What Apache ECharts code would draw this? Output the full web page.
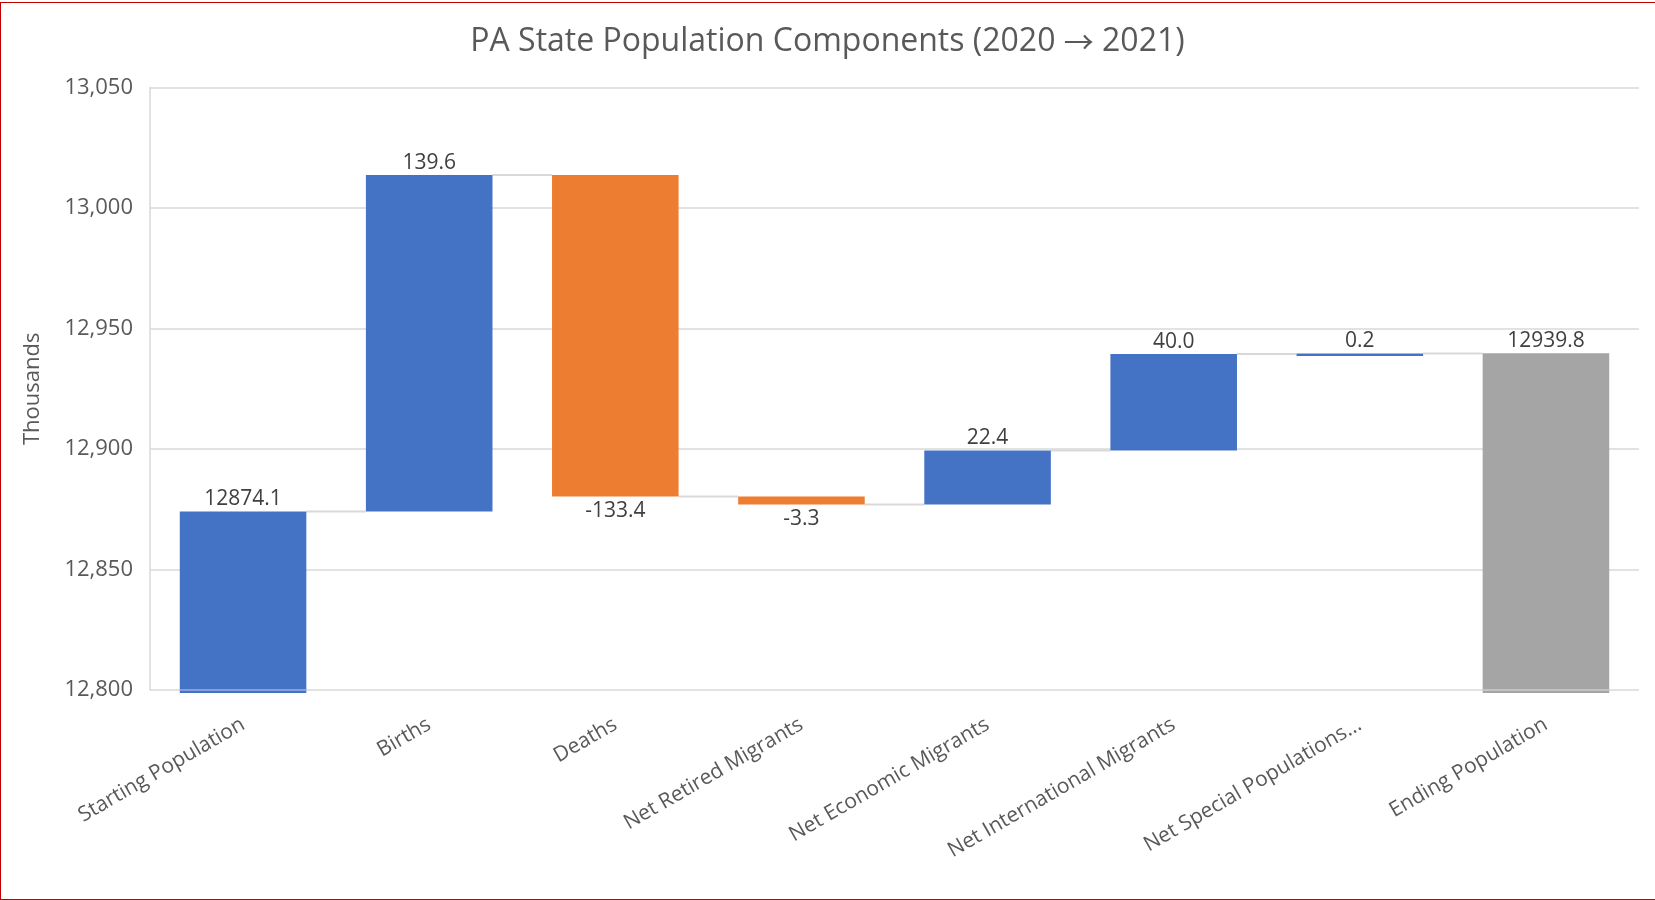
<!DOCTYPE html>
<html style="height: 100%">
<head>
    <meta charset="utf-8">
</head>
<body style="height: 100%; margin: 0">
<div style="position:absolute;left:0;top:2px;width:1670px;height:898px;border:1px solid #c00000;box-sizing:border-box"></div>
<div id="waterfall_container" style="position:absolute;left:0;top:0;width:1655px;height:900px"></div>
<script src="https://cdn.jsdelivr.net/npm/echarts@6/dist/echarts.min.js"></script>
<script type="text/javascript">
    var categories = ['Starting Population', 'Births', 'Deaths', 'Net Retired Migrants',
        'Net Economic Migrants', 'Net International Migrants', 'Net Special Populations...', 'Ending Population'];
    var changes = [12874.1, 139.6, -133.4, -3.3, 22.4, 40.0, 0.2, 12939.8];
    // 'start' and 'total' bars stand on the axis floor, the rest float
    var kinds = ['start', 'delta', 'delta', 'delta', 'delta', 'delta', 'delta', 'total'];
    var yMin = 12800, yMax = 13050, yStep = 50;

    // [index, low, high, value, isTotal, level after, onFloor]
    var rows = [];
    var run = 0;
    changes.forEach(function (v, i) {
        var low, high;
        if (kinds[i] !== 'delta') {
            low = yMin;
            high = v;
            run = v;
        } else {
            low = Math.min(run, run + v);
            high = Math.max(run, run + v);
            run = run + v;
        }
        rows.push([i, low, high, v, kinds[i] === 'total' ? 1 : 0, run, kinds[i] === 'delta' ? 0 : 1]);
    });

    var font = '"Open Sans", sans-serif';

    function renderBar(params, api) {
        var i = api.value(0);
        var lowP = api.coord([i, api.value(1)]);
        var highP = api.coord([i, api.value(2)]);
        var band = api.size([1, 0])[0];
        var w = band * 0.68;
        var x = lowP[0] - w / 2;
        var v = api.value(3);
        var total = api.value(4);
        var floor = api.value(6);
        var color = total ? '#A5A5A5' : (v < 0 ? '#ED7D31' : '#4472C4');
        var h = Math.max(lowP[1] - highP[1], 2.5) + (floor ? 3 : 0);
        var children = [];
        if (i < categories.length - 1) {
            var lv = api.coord([i, api.value(5)]);
            children.push({
                type: 'line',
                shape: { x1: x + w, y1: lv[1], x2: x + band, y2: lv[1] },
                style: { stroke: '#D9D9D9', lineWidth: 2 }
            });
        }
        children.push({
            type: 'rect',
            shape: { x: x, y: highP[1], width: w, height: h },
            style: { fill: color }
        });
        if (floor) {
            children.push({
                type: 'line',
                shape: { x1: x, y1: lowP[1], x2: x + w, y2: lowP[1] },
                style: { stroke: 'rgba(255,255,255,0.45)', lineWidth: 1.5 }
            });
        }
        var neg = v < 0;
        children.push({
            type: 'text',
            style: {
                text: v.toFixed(1),
                x: lowP[0],
                y: neg ? lowP[1] + 4 : highP[1] - 2,
                align: 'center',
                verticalAlign: neg ? 'top' : 'bottom',
                fill: '#404040',
                fontSize: 21,
                fontFamily: font
            }
        });
        return { type: 'group', children: children };
    }

    var myChart = echarts.init(document.getElementById('waterfall_container'));
    var option = {
        backgroundColor: 'transparent',
        textStyle: { fontFamily: font },
        title: {
            text: 'PA State Population Components (2020 {a|\u2192} 2021)',
            left: 'center',
            top: 21,
            textStyle: {
                fontSize: 32, fontWeight: 'normal', color: '#595959', fontFamily: font,
                rich: {
                    a: { fontSize: 30, fontFamily: '"Noto Sans CJK SC"', fontWeight: 'normal', color: '#595959' }
                }
            }
        },
        grid: { left: 150, right: 16, top: 87.6, bottom: 210 },
        xAxis: {
            type: 'category',
            data: categories,
            axisLine: { show: false },
            axisTick: { show: false },
            axisLabel: {
                interval: 0,
                rotate: 30,
                margin: 33,
                fontSize: 21,
                color: '#595959',
                fontFamily: font
            }
        },
        yAxis: {
            type: 'value',
            min: yMin,
            max: yMax,
            interval: yStep,
            name: 'Thousands',
            nameLocation: 'middle',
            nameGap: 106,
            nameTextStyle: { fontSize: 22, color: '#595959', fontFamily: font },
            axisLine: { show: true, lineStyle: { color: '#D9D9D9', width: 1.5 } },
            axisTick: { show: false },
            axisLabel: {
                margin: 17,
                fontSize: 22,
                color: '#595959',
                fontFamily: font,
                formatter: function (v) { return v.toLocaleString('en-US'); }
            },
            splitLine: { lineStyle: { color: '#D9D9D9', width: 1.5 } }
        },
        series: [{
            type: 'custom',
            renderItem: renderBar,
            encode: { x: 0, y: [1, 2] },
            data: rows
        }]
    };
    myChart.setOption(option);
</script>
</body>
</html>
